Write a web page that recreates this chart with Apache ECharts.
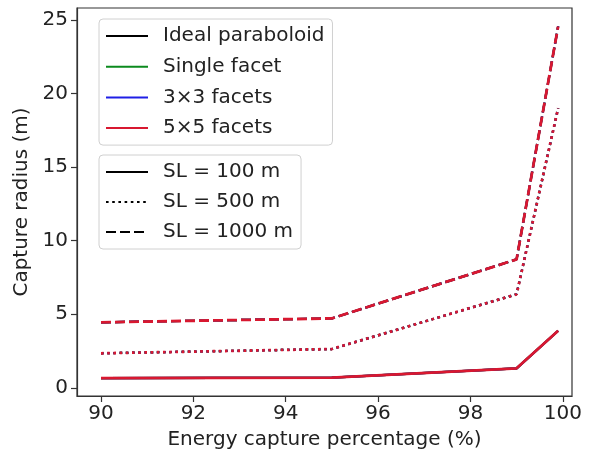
<!DOCTYPE html>
<html>
<head>
<meta charset="utf-8">
<script src="https://cdn.jsdelivr.net/npm/echarts@6/dist/echarts.min.js"></script>
<style>
  html, body { margin: 0; padding: 0; background: #fff; }
  #chart { width: 601px; height: 455px; }
</style>
</head>
<body>
<div id="chart"></div>
<script>
// Energy capture percentage (x) at which the capture radius was evaluated
const capturePct = [90, 95, 99, 99.9];

// Capture radius (m) for each slant length
const radiusSL100 = [0.66, 0.70, 1.33, 3.88];
const radiusSL500 = [2.35, 2.64, 6.36, 19.0];
const radiusSL1000 = [4.45, 4.72, 8.73, 24.55];

// Mirror configurations, drawn in this order (last on top)
const configNames = ['Ideal paraboloid', 'Single facet', '3\u00d73 facets', '5\u00d75 facets'];
const configColors = ['#000000', '#0b8a1e', '#1f1fe6', '#d81830'];

// Slant-length styles
const slNames = ['SL = 100 m', 'SL = 500 m', 'SL = 1000 m'];
const slRadii = [radiusSL100, radiusSL500, radiusSL1000];
const slDash = ['solid', [2.6, 3.6], [10, 4]];

// Axis tick labels
const xTicks = [90, 92, 94, 96, 98, 100];
const yTicks = [0, 5, 10, 15, 20, 25];

const FONT = 'DejaVu Sans';
const TEXT = '#222';
const AXIS = '#333';

const series = [];
configNames.forEach((cfg, ci) => {
  const top = ci === configNames.length - 1;
  slRadii.forEach((radii, si) => {
    series.push({
      name: cfg,
      type: 'line',
      symbol: 'none',
      silent: true,
      z: 2 + ci,
      data: capturePct.map((x, i) => [x, radii[i]]),
      lineStyle: { color: configColors[ci], width: top ? 2.8 : 2.2, type: slDash[si] },
      itemStyle: { color: configColors[ci] }
    });
  });
});
// Legend-only entries for the line styles
slNames.forEach((name, si) => {
  series.push({
    name: name,
    type: 'line',
    symbol: 'none',
    data: [],
    lineStyle: { color: '#000', width: 2.5, type: slDash[si] },
    itemStyle: { color: '#000' }
  });
});

const legendCommon = {
  orient: 'vertical',
  selectedMode: false,
  itemWidth: 42,
  itemHeight: 14,
  itemStyle: { opacity: 0 },
  backgroundColor: 'rgba(255,255,255,0.85)',
  borderColor: '#d0d0d0',
  borderWidth: 1,
  borderRadius: 4,
  textStyle: { fontFamily: FONT, fontSize: 20, color: TEXT, lineHeight: 20, padding: [0, 0, 0, 10] }
};

const chart = echarts.init(document.getElementById('chart'), null, { renderer: 'canvas' });
chart.setOption({
  backgroundColor: '#fff',
  animation: false,
  grid: {
    left: 77, top: 8, right: 29, bottom: 58,
    show: true, borderColor: AXIS, borderWidth: 1.2, backgroundColor: 'transparent'
  },
  legend: [
    Object.assign({}, legendCommon, {
      left: 99, top: 19, itemGap: 10.7, padding: [7, 8, 7, 6],
      data: configNames
    }),
    Object.assign({}, legendCommon, {
      left: 99, top: 155, itemGap: 10, padding: [7, 8, 7, 6],
      data: slNames
    })
  ],
  xAxis: {
    type: 'value',
    min: 89.48,
    max: 100.2,
    name: 'Energy capture percentage (%)',
    nameLocation: 'middle',
    nameGap: 34,
    nameTextStyle: { fontFamily: FONT, fontSize: 20, color: TEXT },
    axisLine: { show: true, onZero: false, lineStyle: { color: AXIS, width: 1.2 } },
    axisTick: { show: true, length: 6, customValues: xTicks, lineStyle: { color: AXIS, width: 1.2 } },
    axisLabel: { customValues: xTicks, margin: 8, fontFamily: FONT, fontSize: 20, color: TEXT },
    splitLine: { show: false }
  },
  yAxis: {
    type: 'value',
    min: -0.55,
    max: 25.8,
    name: 'Capture radius (m)',
    nameLocation: 'middle',
    nameRotate: 90,
    nameGap: 40,
    nameTextStyle: { fontFamily: FONT, fontSize: 20, color: TEXT },
    axisLine: { show: true, onZero: false, lineStyle: { color: AXIS, width: 1.2 } },
    axisTick: { show: true, length: 6, customValues: yTicks, lineStyle: { color: AXIS, width: 1.2 } },
    axisLabel: { customValues: yTicks, margin: 9, fontFamily: FONT, fontSize: 20, color: TEXT },
    splitLine: { show: false }
  },
  series: series
});
</script>
</body>
</html>
